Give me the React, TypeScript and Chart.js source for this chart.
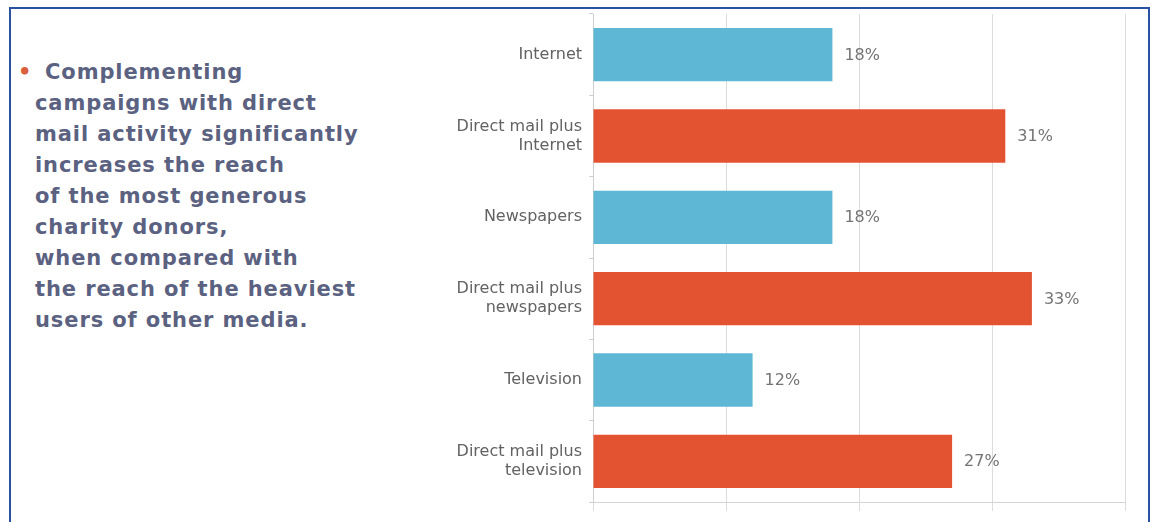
import React, { useEffect, useRef } from "react";
import { Chart, registerables } from "chart.js";

Chart.register(...registerables);

const categories: (string | string[])[] = [
  "Internet",
  ["Direct mail plus", "Internet"],
  "Newspapers",
  ["Direct mail plus", "newspapers"],
  "Television",
  ["Direct mail plus", "television"],
];
const values: number[] = [18, 31, 18, 33, 12, 27];
const barColors: string[] = ["#5fb7d6", "#e45331", "#5fb7d6", "#e45331", "#5fb7d6", "#e45331"];
const xTicks: number[] = [0, 10, 20, 30, 40];

const textLines: string[] = [
  "campaigns with direct",
  "mail activity significantly",
  "increases the reach",
  "of the most generous",
  "charity donors,",
  "when compared with",
  "the reach of the heaviest",
  "users of other media.",
];
const firstLine = "Complementing";

const valueLabelPlugin = {
  id: "valueLabels",
  afterDatasetsDraw(chart: any) {
    const ctx = chart.ctx;
    const meta = chart.getDatasetMeta(0);
    ctx.save();
    ctx.font = "16px 'DejaVu Sans'";
    ctx.fillStyle = "#747474";
    ctx.textAlign = "left";
    ctx.textBaseline = "middle";
    meta.data.forEach((bar: any, i: number) => {
      ctx.fillText(values[i] + "%", bar.x + 12, bar.y + 1);
    });
    ctx.restore();
  },
};

function BarChart() {
  const ref = useRef<HTMLCanvasElement | null>(null);
  useEffect(() => {
    if (!ref.current) return;
    const chart = new Chart(ref.current, {
      type: "bar",
      data: {
        labels: categories as any,
        datasets: [
          {
            data: values,
            backgroundColor: barColors,
            borderWidth: 0,
            barPercentage: 0.81,
            categoryPercentage: 0.81,
          },
        ],
      },
      options: {
        indexAxis: "y",
        animation: false,
        responsive: false,
        devicePixelRatio: 1,
        layout: { padding: { top: 14, right: 28, left: 0, bottom: 0 } },
        plugins: { legend: { display: false }, tooltip: { enabled: false } },
        scales: {
          x: {
            min: 0,
            max: 40,
            afterBuildTicks: (axis: any) => {
              axis.ticks = xTicks.map((v) => ({ value: v }));
            },
            ticks: { display: false },
            grid: { color: "#dcdcdc", tickLength: 9, drawTicks: true, lineWidth: 1 },
            border: { color: "#d4d4d4", width: 1 },
            afterFit: (axis: any) => {
              axis.height = 20;
              axis.paddingLeft = 0;
              axis.paddingRight = 0;
            },
          },
          y: {
            grid: { drawOnChartArea: false, drawTicks: true, tickLength: 4, color: "#cfcfcf", offset: true },
            border: { color: "#cfcfcf", width: 1 },
            ticks: {
              color: "#626262",
              font: { family: "'DejaVu Sans'", size: 16 },
              padding: 7,
            },
            afterFit: (axis: any) => {
              axis.width = 173;
              axis.paddingTop = 0;
              axis.paddingBottom = 0;
            },
          },
        },
      },
      plugins: [valueLabelPlugin],
    });
    return () => chart.destroy();
  }, []);
  return <canvas ref={ref} width={733} height={522} style={{ position: "absolute", left: 420, top: 0 }} />;
}

export default function App() {
  const textStyle: React.CSSProperties = {
    position: "absolute",
    left: 35,
    top: 57,
    fontFamily: "'DejaVu Sans', Verdana, sans-serif",
    fontWeight: "bold",
    fontSize: 21,
    lineHeight: "31px",
    letterSpacing: 0.9,
    color: "#5b6180",
    whiteSpace: "nowrap",
  };
  return (
    <div style={{ position: "absolute", left: 0, top: 0, width: 1153, height: 522, background: "#ffffff", overflow: "hidden" }}>
      <div
        style={{
          position: "absolute",
          left: 9,
          top: 7,
          width: 1141,
          height: 530,
          borderLeft: "2px solid #2a52a3",
          borderTop: "2px solid #2a52a3",
          borderRight: "2px solid #2a52a3",
          boxSizing: "border-box",
        }}
      />
      <div style={textStyle}>
        <div style={{ position: "relative" }}>
          <span style={{ position: "absolute", left: -17, color: "#d9603b" }}>•</span>
          <span style={{ marginLeft: 10 }}>{firstLine}</span>
        </div>
        {textLines.map((l, i) => (
          <div key={i}>{l}</div>
        ))}
      </div>
      <BarChart />
    </div>
  );
}
